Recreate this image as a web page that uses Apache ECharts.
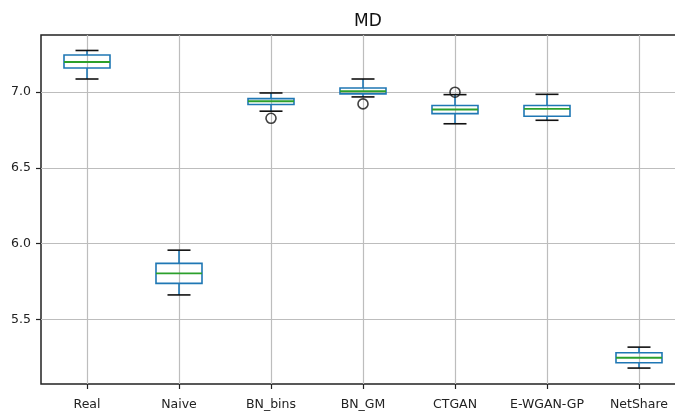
<!DOCTYPE html>
<html>
<head>
<meta charset="utf-8">
<script src="https://cdn.jsdelivr.net/npm/echarts@6/dist/echarts.min.js"></script>
<style>
  html, body { margin: 0; padding: 0; background: #fff; }
  #chart { width: 675px; height: 412px; }
</style>
</head>
<body>
<div id="chart"></div>
<script>
// Box-plot summary of MD per generator
const categories = ['Real', 'Naive', 'BN_bins', 'BN_GM', 'CTGAN', 'E-WGAN-GP', 'NetShare'];
const lowWhisker = [7.085, 5.662, 6.873, 6.967, 6.790, 6.813, 5.180];
const q1 = [7.158, 5.738, 6.917, 6.987, 6.857, 6.840, 5.215];
const median = [7.197, 5.804, 6.938, 7.004, 6.884, 6.888, 5.248];
const q3 = [7.243, 5.870, 6.956, 7.026, 6.910, 6.910, 5.281];
const highWhisker = [7.273, 5.957, 6.993, 7.085, 6.982, 6.984, 5.318];
// outliers: [category position (1-based), value]
const outliers = [[3, 6.826], [4, 6.921], [5, 6.998]];
const yTicks = [5.5, 6.0, 6.5, 7.0];

const boxData = categories.map((c, i) => [i + 1, lowWhisker[i], q1[i], median[i], q3[i], highWhisker[i]]);

const FONT = 'DejaVu Sans';
const BLUE = '#1f77b4';
const GREEN = '#2ca02c';

function renderBox(params, api) {
  const x = api.value(0);
  const lo = api.coord([x, api.value(1)]);
  const b1 = api.coord([x, api.value(2)]);
  const md = api.coord([x, api.value(3)]);
  const b3 = api.coord([x, api.value(4)]);
  const hi = api.coord([x, api.value(5)]);
  const boxW = api.size([0.5, 0])[0];
  const capW = api.size([0.25, 0])[0];
  const cx = lo[0];
  const lw = 1.6;
  return {
    type: 'group',
    children: [
      { type: 'line', shape: { x1: cx, y1: lo[1], x2: cx, y2: b1[1] }, style: { stroke: BLUE, lineWidth: lw } },
      { type: 'line', shape: { x1: cx, y1: b3[1], x2: cx, y2: hi[1] }, style: { stroke: BLUE, lineWidth: lw } },
      { type: 'rect', shape: { x: cx - boxW / 2, y: b3[1], width: boxW, height: b1[1] - b3[1] },
        style: { stroke: BLUE, fill: 'none', lineWidth: lw } },
      { type: 'line', shape: { x1: cx - boxW / 2, y1: md[1], x2: cx + boxW / 2, y2: md[1] }, style: { stroke: GREEN, lineWidth: 1.9 } },
      { type: 'line', shape: { x1: cx - capW / 2, y1: lo[1], x2: cx + capW / 2, y2: lo[1] }, style: { stroke: '#111', lineWidth: lw } },
      { type: 'line', shape: { x1: cx - capW / 2, y1: hi[1], x2: cx + capW / 2, y2: hi[1] }, style: { stroke: '#111', lineWidth: lw } }
    ]
  };
}

const chart = echarts.init(document.getElementById('chart'));
chart.setOption({
  animation: false,
  backgroundColor: '#fff',
  title: {
    text: 'MD',
    left: 363,
    top: 8,
    textAlign: 'center',
    textStyle: { fontFamily: FONT, fontSize: 17, fontWeight: 'normal', color: '#111' }
  },
  grid: {
    left: 41, top: 35, right: -10, bottom: 28,
    show: true, borderColor: '#222', borderWidth: 1.5,
    containLabel: false, outerBoundsMode: 'none'
  },
  xAxis: {
    type: 'value',
    min: 0.5, max: 7.5,
    axisLine: { show: false },
    axisTick: { show: true, length: 5, customValues: [1, 2, 3, 4, 5, 6, 7], lineStyle: { color: '#222', width: 1.2 } },
    axisLabel: {
      customValues: [1, 2, 3, 4, 5, 6, 7],
      formatter: v => categories[Math.round(v) - 1] || '',
      fontFamily: FONT, fontSize: 12.5, color: '#222', margin: 14
    },
    splitLine: { show: true, lineStyle: { color: '#bdbdbd', width: 1.2 } }
  },
  yAxis: {
    type: 'value',
    min: 5.075, max: 7.375,
    axisLine: { show: false },
    axisTick: { show: true, length: 5, customValues: yTicks, lineStyle: { color: '#222', width: 1.2 } },
    axisLabel: {
      customValues: yTicks,
      formatter: v => v.toFixed(1),
      fontFamily: FONT, fontSize: 12.5, color: '#222', margin: 10
    },
    splitLine: { show: true, lineStyle: { color: '#bdbdbd', width: 1.2 } }
  },
  series: [
    {
      type: 'custom',
      renderItem: renderBox,
      data: boxData,
      encode: { x: 0, y: [1, 2, 3, 4, 5] },
      z: 3
    },
    {
      type: 'scatter',
      data: outliers,
      symbol: 'circle',
      symbolSize: 10,
      itemStyle: { color: 'rgba(0,0,0,0)', borderColor: '#111', borderWidth: 1.6 },
      z: 4
    }
  ]
});
</script>
</body>
</html>
